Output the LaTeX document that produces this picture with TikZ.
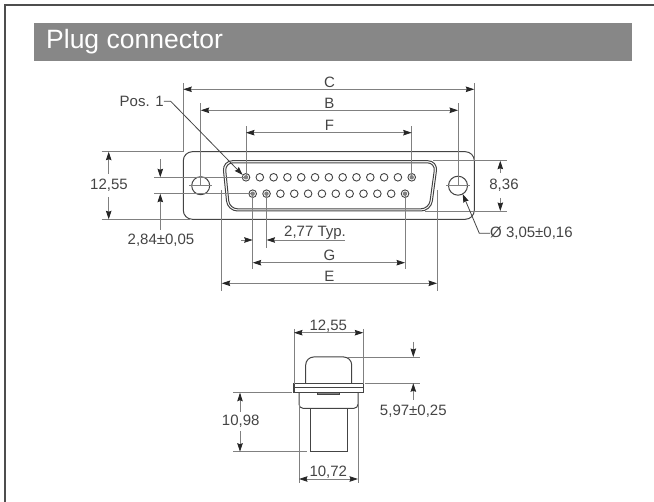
\documentclass[tikz,border=0pt]{standalone}
\usepackage{fontspec}
\setmainfont{Liberation Sans}
\usetikzlibrary{arrows.meta}
\definecolor{inkgray}{HTML}{444444}
\definecolor{dimgray}{HTML}{808080}
\definecolor{bargray}{HTML}{878787}
\definecolor{framegray}{HTML}{4D4D4D}
\tikzset{
  outline/.style={draw=inkgray,line width=1pt},
  dimline/.style={draw=dimgray,line width=0.8pt},
  dimtip/.style={draw=dimgray,line width=0.8pt,-{Stealth[length=8.5pt,width=5.5pt,inset=1pt,color=black!85]}},
  dimlabel/.style={text=inkgray,font=\fontsize{15}{17}\selectfont,inner sep=0pt},
  pin/.style={draw=inkgray,line width=0.9pt,fill=white},
}
\begin{document}
\begin{tikzpicture}[x=1pt,y=-1pt]
    \useasboundingbox (0,0) rectangle (654,502);

    \draw[framegray,line width=1.6pt] (5,502) -- (5,5) -- (654,5);
    \fill[bargray] (34,23) rectangle (632,61);
    \node (title) [anchor=west,text=white,font=\fontsize{26.5}{30}\selectfont,inner sep=0pt] at (46,42) {Plug connector};

    \coordinate (FL) at (183.3,151.7);
    \coordinate (FR) at (474.3,219.3);
    \coordinate (HL) at (200.7,185.7);
    \coordinate (HR) at (458,185.7);
    \coordinate (P1) at (246,177.3);
    \coordinate (P13) at (411.7,177.3);
    \coordinate (P14) at (252.7,193.7);
    \coordinate (P15) at (266.5,193.7);
    \coordinate (P25) at (405,193.7);

    % front view
    \draw[outline,rounded corners=9pt] (FL) rectangle (FR);
    \draw[outline,rounded corners=10pt] (222.5,160.7) -- (437.8,160.7) -- (431,211) -- (227.5,211) -- cycle;
    \draw[outline,rounded corners=8pt] (225,162.8) -- (435.3,162.8) -- (429,208.8) -- (229.5,208.8) -- cycle;
    \draw[outline] (HL) circle (9);
    \draw[outline] (HR) circle (9.5);
    \draw[dimline] (189,185.7) -- (212,185.7);
    \draw[dimline] (446,185.7) -- (470,185.7);
    \foreach \i in {0,...,12}
        \draw[pin] (246+13.81*\i,177.3) circle (3.8);
    \foreach \i in {0,...,11}
        \draw[pin] (252.7+13.85*\i,193.7) circle (3.8);
    \fill[dimgray] (P1) circle (2.2) (P13) circle (2.2) (P14) circle (2.2) (P15) circle (2.2) (P25) circle (2.2);

    % widths above
    \draw[dimline] (FL) -- (183.3,82.7);
    \draw[dimline] (474.3,160) -- (474.3,82.7);
    \draw[dimline] (HL) -- (200.7,103);
    \draw[dimline] (HR) -- (458,103);
    \draw[dimline] (P1) -- (246,126);
    \draw[dimline] (P13) -- (411.7,126);
    \draw[dimtip] (329,89.3) -- (183.3,89.3);
    \draw[dimtip] (329,89.3) -- (474.3,89.3);
    \draw[dimtip] (329,110.3) -- (200.7,110.3);
    \draw[dimtip] (329,110.3) -- (458,110.3);
    \draw[dimtip] (329,132.7) -- (246,132.7);
    \draw[dimtip] (329,132.7) -- (411.7,132.7);
    \node (dimC) [dimlabel] at (329.5,82) {C};
    \node (dimB) [dimlabel] at (329.5,103) {B};
    \node (dimF) [dimlabel] at (329.5,125.5) {F};

    % widths below
    \draw[dimline] (221.7,190) -- (221.7,290.7);
    \draw[dimline] (437,190) -- (437,290.7);
    \draw[dimline] (P14) -- (252.7,269);
    \draw[dimline] (P25) -- (405,269);
    \draw[dimline] (P15) -- (266.5,248);
    \draw[dimtip] (329,283.3) -- (221.7,283.3);
    \draw[dimtip] (329,283.3) -- (437,283.3);
    \draw[dimtip] (329,262.7) -- (252.7,262.7);
    \draw[dimtip] (329,262.7) -- (405,262.7);
    \draw[dimtip] (241,240) -- (252.7,240);
    \draw[dimtip] (345,240) -- (266.5,240);
    \node (dimE) [dimlabel] at (329.5,276) {E};
    \node (dimG) [dimlabel] at (329.5,255.5) {G};
    \node (dimTyp) [dimlabel,anchor=west] at (284,233) {2,77 Typ.};

    % left side
    \draw[dimline] (101.7,151.7) -- (FL);
    \draw[dimline] (101.7,219.3) -- (190,219.3);
    \draw[dimline] (154,177.3) -- (P1);
    \draw[dimline] (154,193.7) -- (P14);
    \draw[dimtip] (108.7,174) -- (108.7,151.7);
    \draw[dimtip] (108.7,197) -- (108.7,219.3);
    \draw[dimtip] (160.3,159.3) -- (160.3,177.3);
    \draw[dimtip] (160.3,230) -- (160.3,193.7);
    \node (dimH) [dimlabel] at (109,185.5) {12,55};
    \node (dimPitch) [dimlabel] at (161,240) {2,84±0,05};
    \node (pos) [dimlabel] at (141.7,101.3) {Pos. 1};
    \coordinate (posBend) at (170.7,101.3);
    \draw[dimtip,draw=inkgray] (pos.east) -- (posBend) -- (242.7,175);

    % right side
    \draw[dimline] (433,160.7) -- (506.7,160.7);
    \draw[dimline] (425,211) -- (506.7,211);
    \draw[dimtip] (500.3,173) -- (500.3,160.7);
    \draw[dimtip] (500.3,198) -- (500.3,211);
    \node (dimShell) [dimlabel] at (504,185.7) {8,36};
    \node (dimHole) [dimlabel,anchor=west] at (490,233.3) {Ø 3,05±0,16};
    \coordinate (holeBend) at (479.3,233.3);
    \draw[dimtip,draw=inkgray] (dimHole.west) -- (holeBend) -- (462.7,194);

    % side view
    \draw[outline,rounded corners=8pt] (305.7,383.7) -- (305.7,357) -- (351.7,357) -- (351.7,383.7);
    \draw[outline,line width=1.2pt] (294,383.7) rectangle (363.3,392.7);
    \draw[outline] (294,387.7) -- (363.3,387.7);
    \draw[outline,rounded corners=4pt] (299,392.7) -- (299,408.3) -- (358,408.3) -- (358,392.7);
    \draw[outline,fill=dimgray] (317.7,392.7) rectangle (339.3,395);
    \draw[outline] (310.3,408.3) -- (310.3,451.7) -- (347.3,451.7) -- (347.3,408.3);

    \draw[dimline] (294,329) -- (294,383.7);
    \draw[dimline] (363.3,329) -- (363.3,383.7);
    \draw[dimline] (299,392.7) -- (299,483.3);
    \draw[dimline] (358,392.7) -- (358,483.3);
    \draw[dimtip] (328.6,332.7) -- (294,332.7);
    \draw[dimtip] (328.6,332.7) -- (363.3,332.7);
    \draw[dimtip] (328.5,479) -- (299,479);
    \draw[dimtip] (328.5,479) -- (358,479);
    \node (topW) [dimlabel] at (328.3,326.5) {12,55};
    \node (botW) [dimlabel] at (328.3,472.5) {10,72};

    \draw[dimline] (233.3,392.7) -- (292,392.7);
    \draw[dimline] (233.3,451.7) -- (307.3,451.7);
    \draw[dimtip] (240,412) -- (240,392.7);
    \draw[dimtip] (240,431) -- (240,451.7);
    \node (sideH) [dimlabel] at (240.7,421.5) {10,98};

    \draw[dimline] (348,357) -- (420,357);
    \draw[dimline] (365,383.3) -- (420,383.3);
    \draw[dimtip] (413.3,341.7) -- (413.3,357);
    \draw[dimtip] (413.3,400) -- (413.3,383.3);
    \node (sideD) [dimlabel] at (413.3,411.7) {5,97±0,25};
\end{tikzpicture}
\end{document}
